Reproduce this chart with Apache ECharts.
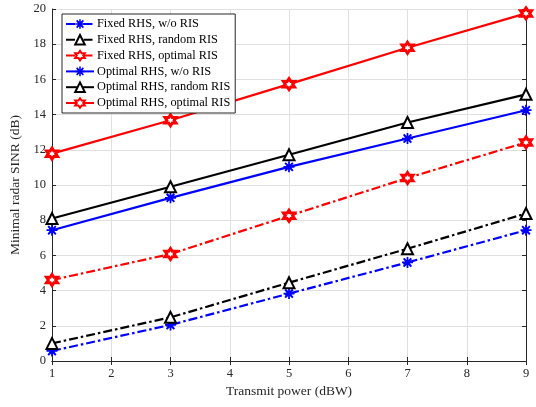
<!DOCTYPE html>
<html><head><meta charset="utf-8">
<script src="https://cdn.jsdelivr.net/npm/echarts@6/dist/echarts.min.js"></script>
<style>html,body{margin:0;padding:0;background:#fff}#c{width:536px;height:407px}</style>
</head><body><div id="c"></div>
<script>
const xValues = [1, 3, 5, 7, 9];
const fixedNoRIS = [0.57, 2.05, 3.83, 5.6, 7.43];
const fixedRandomRIS = [1.0, 2.48, 4.45, 6.38, 8.38];
const fixedOptRIS = [4.6, 6.08, 8.25, 10.4, 12.42];
const optNoRIS = [7.43, 9.27, 11.03, 12.64, 14.25];
const optRandomRIS = [8.1, 9.9, 11.72, 13.55, 15.15];
const optOptRIS = [11.78, 13.68, 15.73, 17.8, 19.75];
const seriesNames = ['Fixed RHS, w/o RIS','Fixed RHS, random RIS','Fixed RHS, optimal RIS','Optimal RHS, w/o RIS','Optimal RHS, random RIS','Optimal RHS, optimal RIS'];
const xTicks = [1,2,3,4,5,6,7,8,9];
const yTicks = [0,2,4,6,8,10,12,14,16,18,20];

const FONT = 'Liberation Serif';
const asterisk = 'path://M-1.6,-10 L1.6,-10 L1.6,-4.5 L5.8,-8.6 L8.2,-6.3 L4.4,-1.6 L10,-1.6 L10,1.6 L4.4,1.6 L8.2,6.3 L5.8,8.6 L1.6,4.5 L1.6,10 L-1.6,10 L-1.6,4.5 L-5.8,8.6 L-8.2,6.3 L-4.4,1.6 L-10,1.6 L-10,-1.6 L-4.4,-1.6 L-8.2,-6.3 L-5.8,-8.6 L-1.6,-4.5 Z';
const hexagram = 'path://M0,-10 L2.887,-5 L8.66,-5 L5.774,0 L8.66,5 L2.887,5 L0,10 L-2.887,5 L-8.66,5 L-5.774,0 L-8.66,-5 L-2.887,-5 Z';
const dashDot = [9, 3, 2.5, 3];

function mk(name, vals, color, symbol, dashed, hollow, size, bw) {
  return {
    name: name, type: 'line',
    data: xValues.map((x, i) => [x, vals[i]]),
    symbol: symbol, symbolSize: size, showSymbol: true,
    lineStyle: { color: color, width: 2.2, type: dashed ? dashDot : 'solid' },
    itemStyle: { color: hollow ? '#fff' : color, borderColor: color, borderWidth: bw },
    emphasis: { disabled: true }, animation: false, z: 3
  };
}
const series = [
  mk(seriesNames[0], fixedNoRIS, '#0000ff', asterisk, true, false, 11, 0),
  mk(seriesNames[1], fixedRandomRIS, '#000000', 'triangle', true, true, 11, 2),
  mk(seriesNames[2], fixedOptRIS, '#ff0000', hexagram, true, true, 11, 3),
  mk(seriesNames[3], optNoRIS, '#0000ff', asterisk, false, false, 11, 0),
  mk(seriesNames[4], optRandomRIS, '#000000', 'triangle', false, true, 11, 2),
  mk(seriesNames[5], optOptRIS, '#ff0000', hexagram, false, true, 11, 3)
];
const axisCol = '#262626';
const chart = echarts.init(document.getElementById('c'), null, { renderer: 'canvas' });
chart.setOption({
  animation: false,
  backgroundColor: '#fff',
  grid: { left: 52, right: 10, top: 9, bottom: 46, containLabel: false },
  legend: {
    data: seriesNames, orient: 'vertical', left: 62, top: 14,
    backgroundColor: '#fff', borderColor: axisCol, borderWidth: 1, borderRadius: 0,
    padding: [4, 5, 4, 3], itemGap: 3.8, itemWidth: 28, itemHeight: 12,
    textStyle: { fontFamily: FONT, fontSize: 12.3, color: '#000', padding: [0, 0, 0, -2] }
  },
  xAxis: [{
    type: 'value', min: 1, max: 9, interval: 1, position: 'bottom',
    name: 'Transmit power (dBW)', nameLocation: 'middle', nameGap: 23,
    nameTextStyle: { fontFamily: FONT, fontSize: 13.5, color: axisCol },
    axisLine: { show: true, lineStyle: { color: axisCol, width: 1 } },
    axisTick: { show: true, inside: true, length: 4, lineStyle: { color: axisCol } },
    axisLabel: { fontFamily: FONT, fontSize: 12.5, color: axisCol, margin: 6 },
    splitLine: { show: true, lineStyle: { color: '#e0e0e0', width: 1 } }
  }, {
    type: 'value', min: 1, max: 9, interval: 1, position: 'top',
    axisLine: { show: true, lineStyle: { color: axisCol, width: 1 } },
    axisTick: { show: true, inside: true, length: 4, lineStyle: { color: axisCol } },
    axisLabel: { show: false }, splitLine: { show: false }
  }],
  yAxis: [{
    type: 'value', min: 0, max: 20, interval: 2, position: 'left',
    name: 'Minimal radar SINR (dB)', nameLocation: 'middle', nameGap: 24,
    nameTextStyle: { fontFamily: FONT, fontSize: 13.5, color: axisCol },
    axisLine: { show: true, lineStyle: { color: axisCol, width: 1 } },
    axisTick: { show: true, inside: true, length: 4, lineStyle: { color: axisCol } },
    axisLabel: { fontFamily: FONT, fontSize: 12.5, color: axisCol, margin: 6 },
    splitLine: { show: true, lineStyle: { color: '#e0e0e0', width: 1 } }
  }, {
    type: 'value', min: 0, max: 20, interval: 2, position: 'right',
    axisLine: { show: true, lineStyle: { color: axisCol, width: 1 } },
    axisTick: { show: true, inside: true, length: 4, lineStyle: { color: axisCol } },
    axisLabel: { show: false }, splitLine: { show: false }
  }],
  series: series
});
</script></body></html>
